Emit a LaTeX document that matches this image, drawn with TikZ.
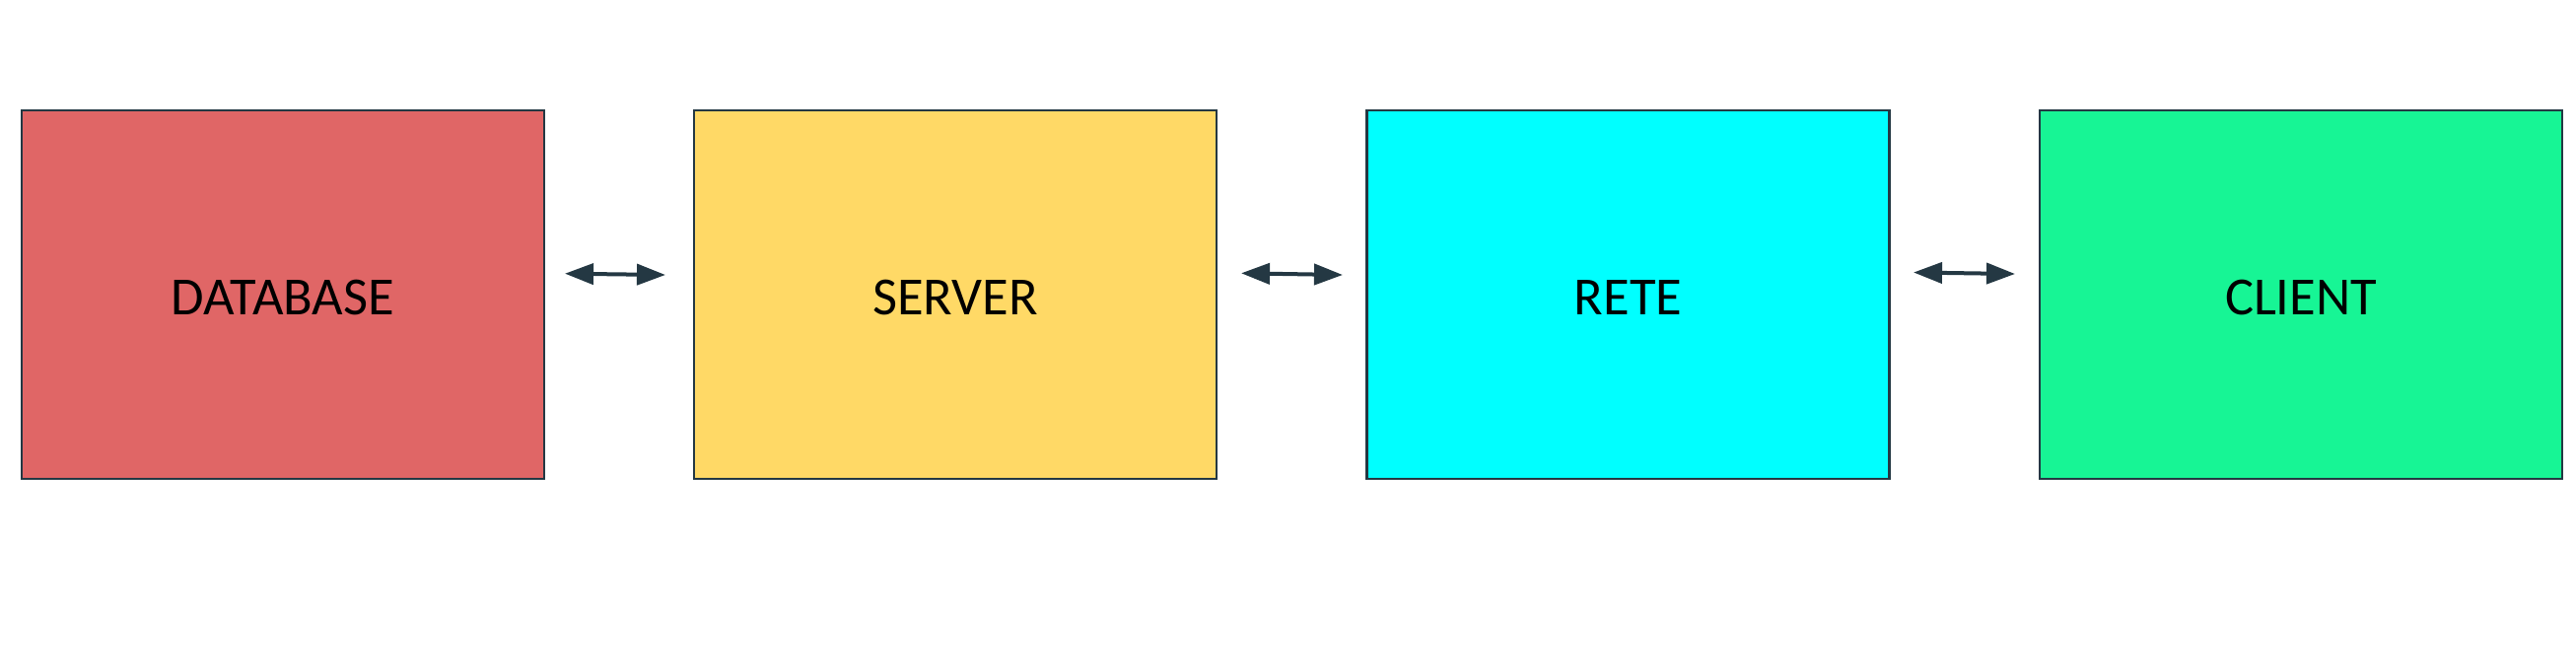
\documentclass[tikz,border=0pt]{standalone}
\usepackage{fontspec}
\setmainfont{Carlito}
\usetikzlibrary{arrows.meta}
\definecolor{dbred}{HTML}{E06666}
\definecolor{srvyellow}{HTML}{FFD966}
\definecolor{retecyan}{HTML}{00FFFF}
\definecolor{clientgreen}{HTML}{17F595}
\definecolor{edgedark}{HTML}{243843}
\tikzset{
  blockbox/.style={draw=edgedark, line width=2.6pt, minimum width=530pt, minimum height=374pt, inner sep=0pt, text height=40pt, text depth=0pt, font=\fontsize{54.5}{60}\selectfont, text=black},
  linkarrow/.style={draw=edgedark, line width=4pt, {Triangle[length=29pt,width=21pt]}-{Triangle[length=29pt,width=21pt]}}
}
\begin{document}
\begin{tikzpicture}[x=1pt,y=-1pt]
\useasboundingbox[fill=white] (0,0) rectangle (2613,678);
\node[blockbox, fill=dbred] (db) at (287,299) {DATABASE};
\node[blockbox, fill=srvyellow] (srv) at (969,299) {SERVER};
\node[blockbox, fill=retecyan] (rete) at (1651.5,299) {RETE};
\node[blockbox, fill=clientgreen] (client) at (2334,299) {CLIENT};
\coordinate (a1l) at (573,277.7);
\coordinate (a1r) at (675,279);
\coordinate (a2l) at (1259,277.3);
\coordinate (a2r) at (1362,279);
\coordinate (a3l) at (1941,276.5);
\coordinate (a3r) at (2044,278);
\draw[linkarrow] (a1l) -- (a1r);
\draw[linkarrow] (a2l) -- (a2r);
\draw[linkarrow] (a3l) -- (a3r);
\end{tikzpicture}
\end{document}
